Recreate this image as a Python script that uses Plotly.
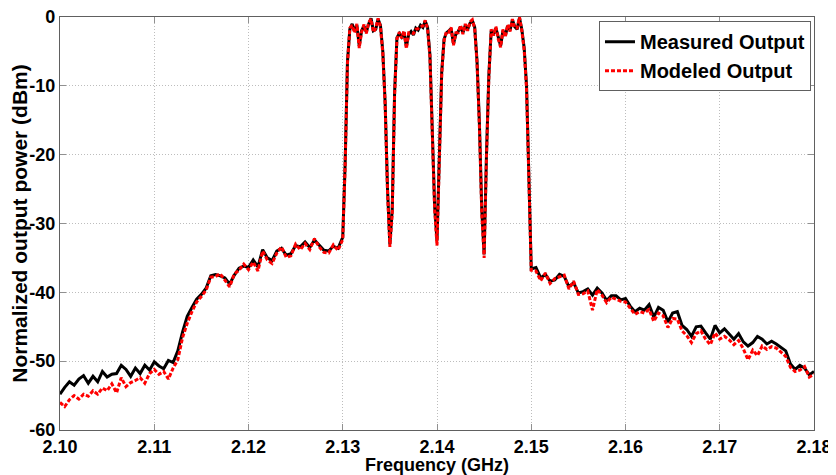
import plotly.graph_objects as go
import numpy as np

# Frequency sampling (GHz): coarse outside the carriers, finer across them
freq_a = np.round(np.arange(0, 60) * 0.0005 + 2.1000, 5)
freq_b = np.round(np.arange(0, 80) * 0.00025 + 2.1300, 5)
freq_c = np.round(np.arange(0, 61) * 0.0005 + 2.1500, 5)
freq = np.concatenate([freq_a, freq_b, freq_c])

measured_a = [-54.8, -53.8, -53.0, -53.5, -52.6, -52.1, -53.2, -52.2, -53.0, -51.5,
              -52.3, -51.9, -51.8, -50.6, -51.2, -52.2, -51.0, -51.8, -50.6, -51.3,
              -50.1, -50.7, -51.1, -49.9, -50.2, -48.5, -45.8, -43.5, -42.2, -41.0,
              -40.3, -39.4, -37.6, -37.4, -37.6, -37.9, -38.8, -37.5, -36.5, -36.2,
              -36.4, -35.3, -36.3, -33.8, -35.0, -35.4, -34.0, -33.6, -34.6, -34.4,
              -33.2, -33.4, -32.7, -33.5, -32.4, -33.1, -33.9, -34.0, -33.3, -33.6]
modeled_a = [-56.0, -56.6, -55.6, -55.0, -55.5, -54.8, -55.1, -54.3, -54.8, -53.9,
             -54.3, -53.3, -54.6, -52.4, -53.7, -53.1, -52.8, -52.4, -53.2, -51.8,
             -51.2, -51.9, -51.5, -52.6, -51.0, -49.8, -46.6, -44.5, -42.8, -41.4,
             -40.6, -39.7, -37.8, -37.7, -37.3, -38.2, -39.2, -37.3, -36.8, -35.9,
             -36.7, -35.6, -36.9, -34.0, -35.3, -35.8, -34.3, -33.4, -34.9, -34.7,
             -33.0, -33.8, -32.9, -33.8, -32.2, -33.4, -34.2, -34.3, -33.1, -33.9]

measured_b = [-32.0, -21.5, -6.5, -1.8, -1.0, -2.0, -1.2, -4.2, -2.0, -1.3,
              -2.2, -1.0, -0.2, -2.0, -1.8, -0.3, -1.2, -5.0, -12.5, -25.0,
              -33.0, -28.0, -11.0, -3.0, -2.4, -2.9, -2.2, -4.3, -2.5, -2.1,
              -2.6, -1.6, -1.9, -1.2, -1.5, -0.6, -1.5, -5.5, -16.0, -27.5,
              -32.5, -19.0, -8.0, -3.2, -2.3, -2.0, -1.7, -3.9, -2.5, -2.1,
              -1.4, -2.3, -1.2, -1.8, -0.9, -0.5, -1.5, -6.5, -15.5, -28.0,
              -34.5, -20.0, -8.5, -2.0, -2.5, -1.6, -3.0, -4.2, -2.0, -2.7,
              -1.3, -1.9, -0.4, -1.4, -1.8, -0.1, -1.8, -4.5, -10.0, -23.0]
modeled_b = [-32.3, -21.8, -6.8, -1.6, -1.2, -2.3, -1.0, -4.5, -2.2, -1.1,
             -2.4, -0.8, -0.3, -2.2, -1.6, -0.2, -1.4, -5.3, -12.8, -25.4,
             -33.4, -28.5, -11.4, -3.2, -2.2, -3.1, -2.0, -4.6, -2.3, -2.3,
             -2.4, -1.8, -1.7, -1.4, -1.3, -0.5, -1.7, -5.8, -16.4, -28.0,
             -33.2, -19.5, -8.3, -3.4, -2.1, -2.2, -1.5, -4.1, -2.3, -2.3,
             -1.2, -2.5, -1.0, -2.0, -0.7, -0.4, -1.7, -6.8, -15.9, -28.5,
             -35.0, -20.4, -8.8, -1.8, -2.7, -1.4, -3.2, -4.4, -1.8, -2.9,
             -1.1, -2.1, -0.3, -1.6, -1.6, 0.0, -2.0, -4.8, -10.4, -23.5]

measured_c = [-36.6, -36.4, -37.9, -37.4, -38.4, -38.2, -37.4, -37.7, -39.2, -38.6,
              -40.1, -39.9, -39.5, -40.4, -39.4, -40.1, -41.2, -40.5, -40.5, -41.1,
              -40.9, -42.0, -42.8, -42.3, -42.6, -41.8, -43.6, -42.2, -42.6, -44.3,
              -43.0, -42.8, -44.8, -45.4, -46.4, -45.0, -44.9, -45.9, -46.8, -44.8,
              -45.9, -45.3, -46.1, -46.8, -46.0, -47.2, -47.8, -47.3, -46.4, -46.8,
              -47.5, -47.1, -47.5, -48.0, -48.5, -50.4, -51.2, -50.6, -51.0, -52.0,
              -51.5]
modeled_c = [-36.8, -36.9, -38.3, -37.2, -38.7, -38.0, -37.8, -37.5, -39.5, -38.4,
             -40.3, -40.2, -39.8, -42.6, -39.6, -40.4, -41.5, -40.7, -41.0, -41.3,
             -41.4, -42.3, -43.2, -42.8, -43.0, -42.5, -44.2, -43.0, -43.4, -45.1,
             -43.8, -43.9, -45.6, -46.3, -47.3, -46.0, -45.6, -46.8, -47.6, -45.9,
             -46.8, -46.4, -46.9, -47.6, -47.0, -48.2, -49.8, -48.4, -49.2, -47.8,
             -48.3, -47.9, -48.1, -48.7, -49.3, -50.9, -51.5, -51.3, -50.8, -52.3,
             -51.9]

measured = measured_a + measured_b + measured_c
modeled = modeled_a + modeled_b + modeled_c

x_ticks = [2.10, 2.11, 2.12, 2.13, 2.14, 2.15, 2.16, 2.17, 2.18]
y_ticks = [0, -10, -20, -30, -40, -50, -60]
y_tick_labels = ["0", "-10", "-20", "-30", "-40", "-50", "-60"]

FONT = "Liberation Sans, Arial, sans-serif"

fig = go.Figure()
fig.add_trace(go.Scatter(x=freq, y=measured, mode="lines", name="<b>Measured Output</b>",
                         line=dict(color="black", width=3)))
fig.add_trace(go.Scatter(x=freq, y=modeled, mode="lines", name="<b>Modeled Output</b>",
                         line=dict(color="red", width=3, dash="4px,2px")))

axis_common = dict(showline=True, linecolor="#606060", linewidth=1.3, mirror="ticks",
                   ticks="inside", ticklen=6, tickcolor="#909090",
                   showgrid=True, gridcolor="#bdbdbd", griddash="1px,2px", gridwidth=1,
                   zeroline=False, automargin=False, ticklabeloverflow="allow",
                   tickfont=dict(family=FONT, size=18, color="black", weight="bold"))

fig.update_xaxes(range=[2.10, 2.18], tickvals=x_ticks, tickformat=".2f",
                 title=dict(text="<b>Frequency (GHz)</b>", standoff=0,
                            font=dict(family=FONT, size=18, color="black")),
                 **axis_common)
fig.update_yaxes(range=[-60, 0], tickvals=y_ticks, ticktext=y_tick_labels,
                 title=dict(text="<b>Normalized output power (dBm)</b>", standoff=3,
                            font=dict(family=FONT, size=21, color="black")),
                 **axis_common)

# The page body adds an 8 px offset, so the figure is sized to fill the rest of the window
fig.update_layout(width=828, height=467,
                  margin=dict(l=52, r=22, t=9, b=45),
                  plot_bgcolor="white", paper_bgcolor="white",
                  font=dict(family=FONT, color="black"),
                  legend=dict(x=0.996, y=0.99, xanchor="right", yanchor="top",
                              bgcolor="white", bordercolor="#606060", borderwidth=1,
                              font=dict(family=FONT, size=20, color="black"),
                              tracegroupgap=0, itemwidth=30),
                  showlegend=True)

fig.write_html("out.html")
